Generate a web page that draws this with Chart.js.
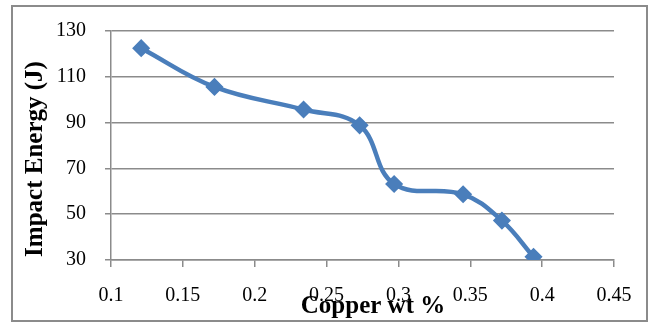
<!DOCTYPE html>
<html lang="en">
<head>
  <meta charset="UTF-8">
  <title>Impact Energy vs Copper</title>
  <script src="https://cdn.jsdelivr.net/npm/chart.js@4.4.1/dist/chart.umd.min.js"></script>
  <style>
    body { margin: 0; background: #fff; }
    #wrap { position: relative; width: 651px; height: 322px; }
    #frame { position: absolute; left: 11px; top: 5px; width: 637px; height: 317px;
             box-sizing: border-box; border: 2px solid #8b8b8b; }
    #chart { position: absolute; left: 0; top: 0; }
  </style>
</head>
<body>
<div id="wrap">
  <div id="frame"></div>
  <canvas id="chart" width="651" height="322"></canvas>
</div>

<script>
// copper content (wt %) and measured impact energy (J)
const copper = [0.121, 0.172, 0.234, 0.273, 0.297, 0.345, 0.372, 0.394];
const impact = [122.5, 105.6, 95.7, 88.8, 63.2, 58.7, 47.2, 31.4];

const xTicks = [0.1, 0.15, 0.2, 0.25, 0.3, 0.35, 0.4, 0.45];
const yTicks = [30, 50, 70, 90, 110, 130];

const xTitle = 'Copper wt %';
const yTitle = 'Impact Energy (J)';

const blue = '#4a7ebb';
const gray = '#8b8b8b';
const serif = '"Liberation Serif", "Times New Roman", serif';

// axis titles sit a little off-centre in the original, so draw them here
const axisTitles = {
  id: 'axisTitles',
  afterDraw(chart) {
    const ctx = chart.ctx;
    ctx.save();
    ctx.fillStyle = '#000';
    ctx.font = 'bold 25px ' + serif;
    ctx.textAlign = 'center';
    ctx.textBaseline = 'alphabetic';
    ctx.fillText(xTitle, 373, 313);
    ctx.translate(42, 159);
    ctx.rotate(-Math.PI / 2);
    ctx.fillText(yTitle, 0, 0);
    ctx.restore();
  }
};

const points = copper.map((c, i) => ({ x: c, y: impact[i] }));

new Chart(document.getElementById('chart'), {
  type: 'scatter',
  data: {
    datasets: [{
      data: points,
      showLine: true,
      tension: 0.4,
      borderColor: blue,
      borderWidth: 4.5,
      backgroundColor: blue,
      pointStyle: 'rectRot',
      pointRadius: 8,
      pointBorderWidth: 1.5,
      pointBorderColor: blue,
      pointBackgroundColor: blue
    }]
  },
  options: {
    responsive: false,
    animation: false,
    layout: { padding: { top: 27, right: 37, bottom: 0, left: 0 } },
    plugins: { legend: { display: false }, tooltip: { enabled: false } },
    scales: {
      x: {
        type: 'linear',
        min: 0.1,
        max: 0.45,
        afterBuildTicks(s) { s.ticks = xTicks.map(v => ({ value: v })); },
        afterFit(s) { s.height = 62; },
        grid: { drawOnChartArea: false, color: gray, lineWidth: 1.5, tickLength: 7 },
        border: { color: gray, width: 1.5 },
        ticks: {
          color: '#000',
          padding: 17,
          maxRotation: 0,
          font: { family: serif, size: 20 },
          callback: v => String(v)
        }
      },
      y: {
        min: 30,
        max: 130,
        afterBuildTicks(s) { s.ticks = yTicks.map(v => ({ value: v })); },
        afterFit(s) { s.width = 111; },
        grid: { color: gray, lineWidth: 1.5, tickLength: 6 },
        border: { color: gray, width: 1.5 },
        ticks: {
          color: '#000',
          padding: 19,
          font: { family: serif, size: 20 },
          callback: v => String(v)
        }
      }
    }
  },
  plugins: [axisTitles]
});
</script>
</body>
</html>
